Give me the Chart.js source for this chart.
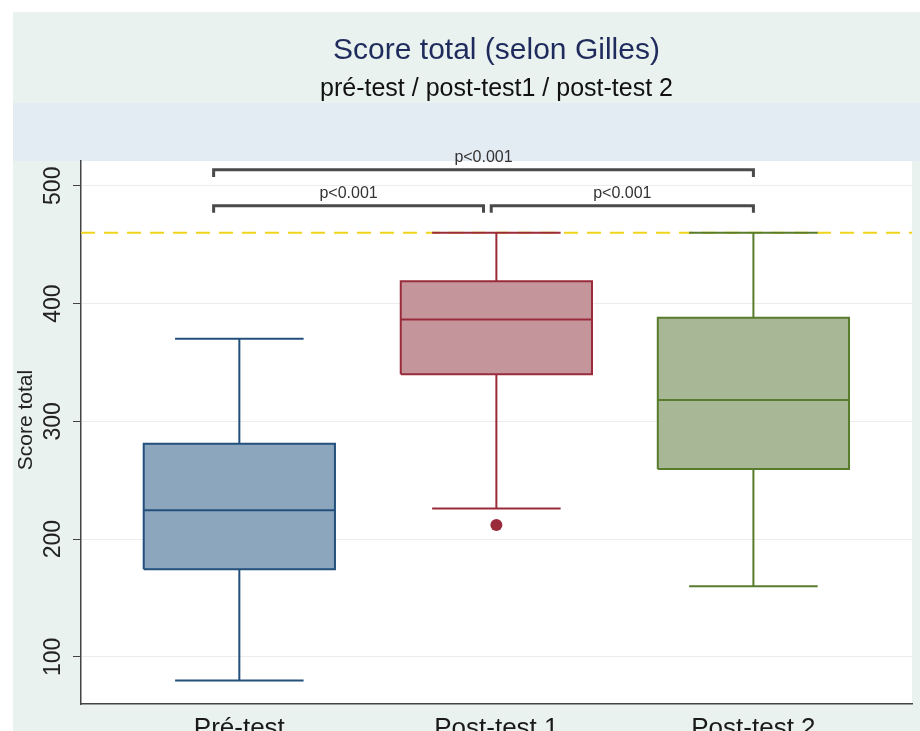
<!DOCTYPE html>
<html>
<head>
<meta charset="utf-8">
<title>Score total (selon Gilles)</title>
<script src="https://cdn.jsdelivr.net/npm/chart.js@4/dist/chart.umd.min.js"></script>
<style>
    html, body { margin: 0; padding: 0; overflow: hidden; background: #fff; }
    #wrap { width: 920px; height: 745px; }
</style>
</head>
<body>
<div id="wrap"><canvas id="scoreChart" width="920" height="745"></canvas></div>
<script>
// ------------------------------------------------------------
// Data
// ------------------------------------------------------------
const categories = ['Pré-test', 'Post-test 1', 'Post-test 2'];
const whiskerLow = [80, 226, 160];
const q1 = [174.5, 340, 259.5];
const median = [224.5, 386.5, 318];
const q3 = [281, 419, 388];
const whiskerHigh = [370, 460, 460];
const outliers = [[], [212], []];
const refLine = 460;
const yTicks = [100, 200, 300, 400, 500];
const comparisons = [[0, 2], [0, 1], [1, 2]];
const pValues = ['p<0.001', 'p<0.001', 'p<0.001'];

// ------------------------------------------------------------
// Styling / layout
// ------------------------------------------------------------
const FONT = '"Liberation Sans", Arial, sans-serif';
const fills = ['#8ba6bd', '#c4969c', '#a8b897'];
const strokes = ['#234f7d', '#9a2b3b', '#587b2c'];
const X_MIN = 0.384, X_MAX = 3.617;
const BOX_W = 0.372;   // half width of a box
const CAP_W = 0.25;    // half width of whisker caps
const TICK_DOWN = 6;   // bracket end ticks, in data units
// bracket placement for each comparison
const bracketLayout = [
    { x0: 0.9, x1: 3.0, y: 513.5 },
    { x0: 0.9, x1: 1.95, y: 483 },
    { x0: 1.98, x1: 3.0, y: 483 }
];

function seg(points, color, width, order, extra) {
    return Object.assign({
        data: points,
        borderColor: color,
        borderWidth: width,
        pointRadius: 0,
        fill: false,
        tension: 0,
        order: order
    }, extra || {});
}

const datasets = [];

// reference line (max score)
datasets.push(seg([{ x: X_MIN, y: refLine }, { x: X_MAX, y: refLine }], '#f1d31b', 2, 10, { borderDash: [14, 9] }));

categories.forEach((cat, i) => {
    const cx = i + 1;
    // box fill
    datasets.push(seg([{ x: cx - BOX_W, y: q3[i] }, { x: cx + BOX_W, y: q3[i] }], 'rgba(0,0,0,0)', 1, 6, {
        fill: { value: q1[i] },
        backgroundColor: fills[i]
    }));
    // box outline
    datasets.push(seg([
        { x: cx - BOX_W, y: q1[i] }, { x: cx + BOX_W, y: q1[i] },
        { x: cx + BOX_W, y: q3[i] }, { x: cx - BOX_W, y: q3[i] },
        { x: cx - BOX_W, y: q1[i] }
    ], strokes[i], 2, 5));
    // median
    datasets.push(seg([{ x: cx - BOX_W, y: median[i] }, { x: cx + BOX_W, y: median[i] }], strokes[i], 2, 5));
    // whiskers
    datasets.push(seg([{ x: cx, y: q3[i] }, { x: cx, y: whiskerHigh[i] }], strokes[i], 2, 5));
    datasets.push(seg([{ x: cx, y: q1[i] }, { x: cx, y: whiskerLow[i] }], strokes[i], 2, 5));
    // caps
    datasets.push(seg([{ x: cx - CAP_W, y: whiskerHigh[i] }, { x: cx + CAP_W, y: whiskerHigh[i] }], strokes[i], 2, 4));
    datasets.push(seg([{ x: cx - CAP_W, y: whiskerLow[i] }, { x: cx + CAP_W, y: whiskerLow[i] }], strokes[i], 2, 4));
    // outliers
    if (outliers[i].length) {
        datasets.push({
            data: outliers[i].map(v => ({ x: cx, y: v })),
            showLine: false,
            pointRadius: 6,
            pointBorderWidth: 0,
            pointBackgroundColor: strokes[i],
            order: 2
        });
    }
});

// significance brackets
comparisons.forEach((pair, k) => {
    const b = bracketLayout[k];
    datasets.push(seg([
        { x: b.x0, y: b.y - TICK_DOWN }, { x: b.x0, y: b.y },
        { x: b.x1, y: b.y }, { x: b.x1, y: b.y - TICK_DOWN }
    ], '#4a4a4a', 3, 1, { borderJoinStyle: 'miter' }));
});

// ------------------------------------------------------------
// Plugins: backgrounds + rotated text
// ------------------------------------------------------------
const backdrop = {
    id: 'backdrop',
    beforeDraw(chart) {
        const { ctx, width, height, chartArea: a } = chart;
        ctx.save();
        ctx.fillStyle = '#ffffff';
        ctx.fillRect(0, 0, width, height);
        ctx.fillStyle = '#eaf2ef';
        ctx.fillRect(13, 12, width - 13, height - 12);
        ctx.fillStyle = '#e3ebf3';
        ctx.fillRect(13, 103, width - 13, a.top - 103);
        ctx.fillStyle = '#ffffff';
        ctx.fillRect(a.left, a.top, a.right - a.left, a.bottom - a.top);
        ctx.restore();
    }
};

const annotations = {
    id: 'annotations',
    afterDraw(chart) {
        const { ctx } = chart;
        const x = chart.scales.x, y = chart.scales.y;
        ctx.save();
        ctx.textAlign = 'center';
        ctx.textBaseline = 'middle';

        // y tick labels (vertical)
        ctx.fillStyle = '#222';
        ctx.font = `23px ${FONT}`;
        yTicks.forEach(v => {
            ctx.save();
            ctx.translate(54, y.getPixelForValue(v));
            ctx.rotate(-Math.PI / 2);
            ctx.fillText(String(v), 0, 0);
            ctx.restore();
        });

        // y axis title
        ctx.font = `21px ${FONT}`;
        ctx.save();
        ctx.translate(26, 420);
        ctx.rotate(-Math.PI / 2);
        ctx.fillText('Score total', 0, 0);
        ctx.restore();

        // p-values above brackets
        ctx.font = `16px ${FONT}`;
        ctx.fillStyle = '#333';
        ctx.textBaseline = 'alphabetic';
        comparisons.forEach((pair, k) => {
            const b = bracketLayout[k];
            ctx.fillText(pValues[k], x.getPixelForValue((b.x0 + b.x1) / 2), y.getPixelForValue(b.y) - 8);
        });
        ctx.restore();
    }
};

// ------------------------------------------------------------
// Chart
// ------------------------------------------------------------
new Chart(document.getElementById('scoreChart'), {
    type: 'line',
    data: { datasets: datasets },
    plugins: [backdrop, annotations],
    options: {
        responsive: false,
        animation: false,
        events: [],
        layout: { padding: { top: 12, left: 13, right: 8, bottom: 0 } },
        plugins: {
            legend: { display: false },
            tooltip: { enabled: false },
            title: {
                display: true,
                text: 'Score total (selon Gilles)',
                color: '#1f2b5c',
                fullSize: false,
                font: { family: FONT, size: 30, weight: 'normal' },
                padding: { top: 21, bottom: 5 }
            },
            subtitle: {
                display: true,
                text: 'pré-test / post-test1 / post-test 2',
                color: '#111',
                fullSize: false,
                font: { family: FONT, size: 25, weight: 'normal' },
                padding: { top: 0, bottom: 57 }
            }
        },
        scales: {
            x: {
                type: 'linear',
                min: X_MIN,
                max: X_MAX,
                afterBuildTicks: s => { s.ticks = categories.map((c, i) => ({ value: i + 1 })); },
                afterFit: s => { s.height = 41; },
                ticks: {
                    callback: v => categories[v - 1],
                    color: '#1a1a1a',
                    font: { family: FONT, size: 26 },
                    padding: 1,
                    autoSkip: false,
                    maxRotation: 0
                },
                grid: { display: false },
                border: { display: true, color: '#444', width: 1.5 }
            },
            y: {
                type: 'linear',
                min: 60,
                max: 521,
                afterBuildTicks: s => { s.ticks = yTicks.map(v => ({ value: v })); },
                afterFit: s => { s.width = 68; },
                ticks: { display: false },
                grid: { color: '#ececec', tickColor: '#444', tickLength: 8, lineWidth: 1 },
                border: { display: true, color: '#444', width: 1.5 }
            }
        }
    }
});
</script>
</body>
</html>
